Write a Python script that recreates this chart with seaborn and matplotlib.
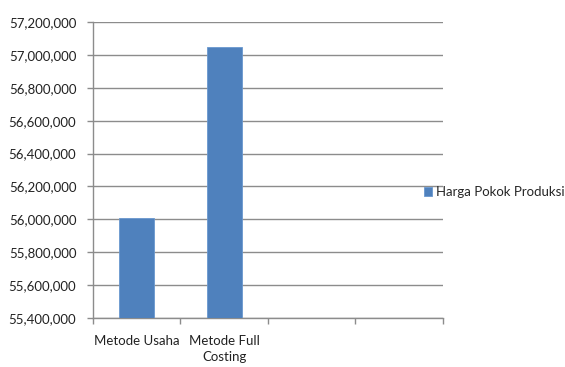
import matplotlib
matplotlib.use("Agg")
import matplotlib.pyplot as plt
import matplotlib.ticker as mticker
import seaborn as sns
import pandas as pd
import numpy as np

# Production cost by costing method
categories = ["Metode Usaha", "Metode Full\nCosting"]
values = [56010000, 57050000]
series_name = "Harga Pokok Produksi"
# the category axis keeps two further empty slots
empty_slots = ["_slot3", "_slot4"]
y_ticks = list(range(55400000, 57200001, 200000))

sns.set_theme(style="white")
plt.rcParams["font.family"] = ["Lato", "DejaVu Sans"]

df = pd.DataFrame({"Metode": categories, "Nilai": values, "Seri": series_name})

fig = plt.figure(figsize=(5.65, 3.67), dpi=100)
ax = fig.add_axes([0.1646, 0.1335, 0.784 - 0.1646, 0.94 - 0.1335])

bar_color = "#4F81BD"
sns.barplot(data=df, x="Metode", y="Nilai", hue="Seri", order=categories + empty_slots,
            palette=[bar_color], saturation=1, width=0.4, ax=ax, legend=True, zorder=3,
            edgecolor="#6A98CF", linewidth=0.6)

ax.set_ylim(y_ticks[0], y_ticks[-1])
ax.set_xlim(-0.5, 3.5)
ax.set_yticks(y_ticks)
ax.yaxis.set_major_formatter(mticker.FuncFormatter(lambda v, p: f"{int(round(v)):,}"))
ax.yaxis.grid(True, color="#8C8C8C", linewidth=1.0, zorder=0)
ax.set_axisbelow(True)

# tick marks at slot boundaries, labels centred in the first two slots
ax.set_xticks(np.arange(-0.5, 3.6, 1.0))
ax.set_xticklabels([])
ax.set_xticks([0, 1], minor=True)
ax.set_xticklabels(categories, minor=True)
ax.tick_params(axis="x", which="major", direction="out", length=4, width=1, color="#8C8C8C", bottom=True)
ax.tick_params(axis="x", which="minor", length=0, pad=12, labelsize=9.5, labelcolor="#222222")
ax.tick_params(axis="y", direction="out", length=4, width=1, color="#8C8C8C", left=True,
               pad=8, labelsize=9.5, labelcolor="#222222")
for lab in ax.get_xticklabels(minor=True):
    lab.set_linespacing(1.45)

ax.set_xlabel("")
ax.set_ylabel("")
for side in ["top", "right"]:
    ax.spines[side].set_visible(False)
for side in ["left", "bottom"]:
    ax.spines[side].set_color("#8C8C8C")
    ax.spines[side].set_linewidth(1.0)

handles, labels = ax.get_legend_handles_labels()
ax.legend(handles, labels, loc="center left", bbox_to_anchor=(0.945, 0.425),
          frameon=False, fontsize=9.5, handlelength=0.6, handleheight=0.6,
          handletextpad=0.35, borderaxespad=0, borderpad=0)

fig.savefig("out.png", dpi=100)
